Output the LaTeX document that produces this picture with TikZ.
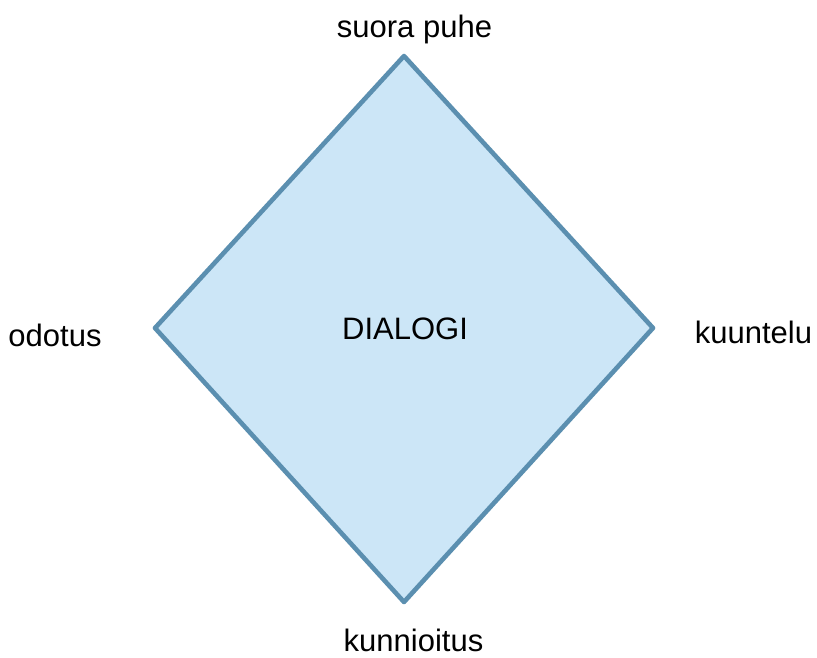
\documentclass[tikz,border=0pt]{standalone}
\usepackage{fontspec}
\setmainfont{Liberation Sans}
\definecolor{dfill}{HTML}{CCE6F7}
\definecolor{dline}{HTML}{5B8FB0}
\begin{document}
\begin{tikzpicture}[x=1pt,y=-1pt,
  lbl/.style={anchor=base,inner sep=0pt,font=\fontsize{31}{36}\selectfont}]
\useasboundingbox (0,0) rectangle (817,657);
\coordinate (t) at (404,56);
\coordinate (r) at (653,328);
\coordinate (b) at (404,602);
\coordinate (l) at (155,328);
\filldraw[fill=dfill,draw=dline,line width=4.6pt,line join=round] (t) -- (r) -- (b) -- (l) -- cycle;
\node[lbl] (top) at (414.5,37) {suora puhe};
\node[lbl] (mid) at (405,339) {DIALOGI};
\node[lbl] (left) at (55,346) {odotus};
\node[lbl] (right) at (753.5,343) {kuuntelu};
\node[lbl] (bot) at (413.5,651) {kunnioitus};
\end{tikzpicture}
\end{document}
